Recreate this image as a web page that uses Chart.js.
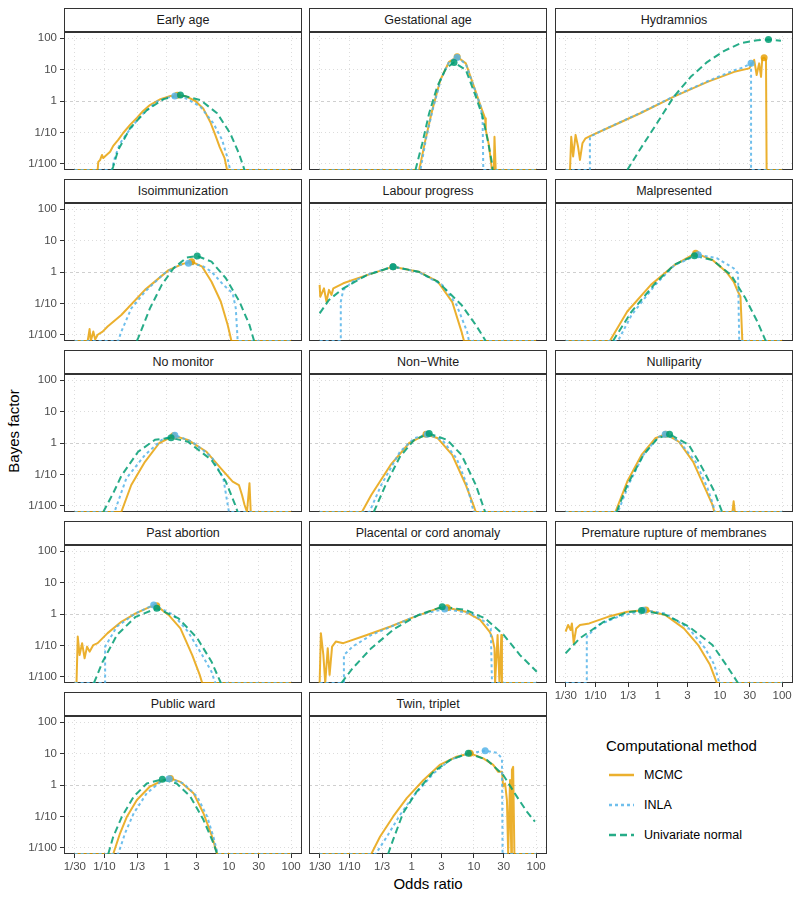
<!DOCTYPE html>
<html>
<head>
<meta charset="utf-8">
<script src="https://cdn.jsdelivr.net/npm/chart.js@4.4.1/dist/chart.umd.min.js"></script>
<style>
    body { margin: 0; width: 800px; height: 900px; position: relative; overflow: hidden; background: #fff;
           font-family: "Liberation Sans", Arial, sans-serif; }
    canvas { position: absolute; }
    .strip { position: absolute; box-sizing: border-box; height: 24px; border: 1px solid #333; background: #fff;
             color: #1a1a1a; font-size: 12.5px; line-height: 22px; text-align: center; white-space: nowrap; }
    .axis-title { position: absolute; width: 200px; text-align: center; font-size: 15px; color: #000; line-height: 18px; }
    .legend-title { position: absolute; left: 606px; top: 737px; font-size: 15px; line-height: 18px; color: #000; }
    .legend-item { position: absolute; left: 609px; height: 16px; font-size: 12.5px; line-height: 16px; color: #000; }
    .legend-item svg { position: absolute; left: 0; top: 6px; }
    .legend-item span { position: absolute; left: 35px; top: 0; white-space: nowrap; }
</style>
</head>
<body>
<div class="axis-title" style="left:-86px; top:422px; transform: rotate(-90deg);">Bayes factor</div>
<div class="axis-title" style="left:328px; top:875px;">Odds ratio</div>
<div class="legend-title">Computational method</div>
<div id="legend"></div>

<script>
// Ejes: valores de los ticks y sus etiquetas
const xTickValues = [1 / 30, 1 / 10, 1 / 3, 1, 3, 10, 30, 100];
const xTickLabels = ['1/30', '1/10', '1/3', '1', '3', '10', '30', '100'];
const yTickValues = [1 / 100, 1 / 10, 1, 10, 100];
const yTickLabels = ['1/100', '1/10', '1', '10', '100'];

const methods = ['MCMC', 'INLA', 'Univariate normal'];

const panelTitles = [
    'Early age', 'Gestational age', 'Hydramnios',
    'Isoimmunization', 'Labour progress', 'Malpresented',
    'No monitor', 'Non\u2212White', 'Nulliparity',
    'Past abortion', 'Placental or cord anomaly', 'Premature rupture of membranes',
    'Public ward', 'Twin, triplet'
];

// Curvas: [log10 odds ratio, log10 Bayes factor]
// (-2.2 = valor llevado al borde inferior del panel)
const earlyAgeMcmc = [[-1.48,-2.2],[-1.11,-2.2],[-1.10,-1.94],[-1.07,-1.88],[-1.04,-1.72],[-1.02,-1.82],[-0.99,-1.76],[-0.91,-1.62],[-0.86,-1.43],[-0.78,-1.24],[-0.70,-1.02],[-0.59,-0.76],[-0.48,-0.54],[-0.38,-0.32],[-0.27,-0.13],[-0.10,0.06],[0.06,0.16],[0.17,0.18],[0.31,0.15],[0.46,0.0],[0.59,-0.25],[0.70,-0.67],[0.78,-1.08],[0.85,-1.46],[0.93,-1.82],[0.97,-2.2],[2.0,-2.2]];
const earlyAgeInla = [[-1.48,-2.2],[-0.88,-2.2],[-0.83,-1.77],[-0.75,-1.35],[-0.64,-1.03],[-0.43,-0.5],[-0.16,-0.02],[0.0,0.1],[0.13,0.16],[0.30,0.09],[0.54,-0.18],[0.75,-0.71],[0.89,-1.24],[0.97,-1.77],[1.02,-2.2],[2.0,-2.2]];
const earlyAgeNormal = [[-0.88,-2.2],[-0.86,-2.09],[-0.78,-1.56],[-0.59,-0.87],[-0.32,-0.29],[-0.05,0.06],[0.22,0.19],[0.54,0.03],[0.81,-0.39],[1.02,-1.03],[1.16,-1.67],[1.24,-2.14],[1.25,-2.2]];

const gestationalAgeMcmc = [[-1.48,-2.2],[0.12,-2.2],[0.22,-1.24],[0.33,-0.29],[0.46,0.67],[0.60,1.25],[0.73,1.41],[0.87,1.2],[1.00,0.46],[1.11,-0.18],[1.18,-0.55],[1.19,-0.92],[1.24,-1.4],[1.27,-1.88],[1.29,-2.2],[1.32,-2.2],[1.33,-1.14],[1.35,-2.2],[2.0,-2.2]];
const gestationalAgeInla = [[-1.48,-2.2],[0.14,-2.2],[0.23,-1.2],[0.34,-0.25],[0.47,0.7],[0.60,1.25],[0.73,1.39],[0.87,1.18],[1.00,0.44],[1.11,-0.18],[1.14,-0.71],[1.15,-2.2],[2.0,-2.2]];
const gestationalAgeNormal = [[0.06,-2.2],[0.17,-1.35],[0.28,-0.39],[0.41,0.46],[0.55,1.04],[0.68,1.23],[0.87,0.99],[1.03,0.14],[1.14,-0.5],[1.22,-1.24],[1.29,-1.98],[1.30,-2.2]];

const hydramniosMcmc = [[-1.48,-2.2],[-1.41,-2.2],[-1.39,-1.14],[-1.36,-1.77],[-1.32,-1.08],[-1.28,-1.46],[-1.25,-1.88],[-1.21,-1.35],[-1.16,-1.19],[-1.08,-1.11],[-0.81,-0.87],[-0.28,-0.39],[0.26,0.14],[0.80,0.61],[1.23,0.93],[1.47,1.04],[1.55,1.31],[1.59,0.83],[1.63,1.2],[1.66,0.77],[1.68,1.36],[1.71,1.38],[1.74,1.31],[1.75,-2.2],[2.0,-2.2]];
const hydramniosInla = [[-1.48,-2.2],[-1.09,-2.2],[-1.09,-1.14],[-0.81,-0.86],[-0.28,-0.38],[0.26,0.15],[0.80,0.63],[1.23,0.98],[1.36,1.06],[1.50,1.2],[1.50,-2.2],[2.0,-2.2]];
const hydramniosNormal = [[-0.49,-2.2],[-0.28,-1.53],[-0.01,-0.7],[0.26,0.14],[0.53,0.77],[0.80,1.25],[1.07,1.6],[1.33,1.84],[1.60,1.94],[1.78,1.96],[1.98,1.92]];

const isoimmunizationMcmc = [[-1.48,-2.2],[-1.27,-2.2],[-1.24,-1.82],[-1.22,-2.2],[-1.18,-1.9],[-1.15,-2.15],[-1.11,-2.0],[-1.03,-1.9],[-0.95,-1.74],[-0.73,-1.37],[-0.35,-0.57],[0.03,0.06],[0.26,0.26],[0.40,0.33],[0.57,0.17],[0.72,-0.31],[0.87,-0.95],[0.98,-1.69],[1.04,-2.2],[2.0,-2.2]];
const isoimmunizationInla = [[-1.48,-2.2],[-0.78,-2.2],[-0.73,-1.9],[-0.57,-1.16],[-0.35,-0.63],[-0.04,-0.04],[0.19,0.22],[0.35,0.28],[0.57,0.2],[0.72,0.01],[0.91,-0.41],[1.06,-0.68],[1.11,-1.16],[1.14,-2.2],[2.0,-2.2]];
const isoimmunizationNormal = [[-0.48,-2.2],[-0.46,-2.11],[-0.27,-1.16],[-0.08,-0.41],[0.11,0.12],[0.32,0.46],[0.49,0.51],[0.72,0.33],[0.95,-0.2],[1.17,-0.95],[1.33,-1.69],[1.40,-2.17],[1.41,-2.2]];

const labourProgressMcmc = [[-1.48,-0.41],[-1.47,-0.79],[-1.41,-0.52],[-1.37,-0.95],[-1.33,-0.57],[-1.29,-0.73],[-1.26,-0.52],[-1.10,-0.36],[-0.72,-0.1],[-0.30,0.17],[0.11,0.01],[0.42,-0.31],[0.65,-0.95],[0.80,-1.9],[0.84,-2.2],[2.0,-2.2]];
const labourProgressInla = [[-1.48,-2.2],[-1.14,-2.2],[-1.14,-0.95],[-1.10,-0.57],[-0.95,-0.31],[-0.65,-0.04],[-0.30,0.17],[0.11,0.0],[0.49,-0.41],[0.72,-1.05],[0.89,-1.9],[0.92,-2.2],[2.0,-2.2]];
const labourProgressNormal = [[-1.48,-1.32],[-1.33,-0.89],[-1.10,-0.52],[-0.72,-0.1],[-0.30,0.17],[0.11,0.01],[0.42,-0.31],[0.80,-1.05],[1.03,-1.69],[1.18,-2.17],[1.19,-2.2]];

const malpresentedMcmc = [[-1.48,-2.2],[-0.77,-2.2],[-0.49,-1.26],[-0.11,-0.41],[0.27,0.22],[0.61,0.6],[0.88,0.38],[1.10,0.01],[1.22,-0.31],[1.29,-0.63],[1.33,-0.79],[1.36,-2.2],[2.0,-2.2]];
const malpresentedInla = [[-1.48,-2.2],[-0.64,-2.2],[-0.42,-1.37],[-0.04,-0.41],[0.27,0.22],[0.65,0.55],[0.95,0.44],[1.22,0.12],[1.29,-0.04],[1.31,-2.2],[2.0,-2.2]];
const malpresentedNormal = [[-0.72,-2.2],[-0.42,-1.26],[-0.04,-0.36],[0.27,0.24],[0.59,0.52],[0.88,0.38],[1.18,-0.1],[1.41,-0.84],[1.60,-1.58],[1.73,-2.17],[1.74,-2.2]];

const noMonitorMcmc = [[-1.48,-2.2],[-0.73,-2.2],[-0.57,-1.34],[-0.35,-0.6],[-0.12,0.0],[0.11,0.23],[0.34,0.1],[0.64,-0.28],[0.87,-0.81],[1.06,-1.23],[1.16,-1.34],[1.21,-1.66],[1.25,-1.97],[1.29,-2.2],[1.33,-1.28],[1.35,-2.2],[2.0,-2.2]];
const noMonitorInla = [[-1.48,-2.2],[-0.84,-2.2],[-0.65,-1.13],[-0.35,-0.38],[-0.08,0.1],[0.13,0.25],[0.41,0.04],[0.72,-0.44],[0.91,-1.13],[0.98,-1.97],[1.00,-2.2],[2.0,-2.2]];
const noMonitorNormal = [[-1.02,-2.2],[-0.86,-1.6],[-0.73,-1.05],[-0.46,-0.28],[-0.19,0.1],[0.07,0.17],[0.34,0.04],[0.72,-0.54],[0.95,-1.23],[1.10,-1.97],[1.14,-2.2]];

const nonWhiteMcmc = [[-1.48,-2.2],[-0.80,-2.2],[-0.65,-1.66],[-0.34,-0.7],[-0.04,0.0],[0.23,0.28],[0.42,0.15],[0.65,-0.38],[0.87,-1.34],[0.99,-1.97],[1.03,-2.2],[2.0,-2.2]];
const nonWhiteInla = [[-1.48,-2.2],[-0.68,-2.2],[-0.49,-1.34],[-0.19,-0.28],[0.04,0.15],[0.25,0.28],[0.49,0.1],[0.72,-0.49],[0.89,-1.34],[0.98,-2.08],[0.99,-2.2],[2.0,-2.2]];
const nonWhiteNormal = [[-0.61,-2.2],[-0.42,-1.34],[-0.19,-0.44],[0.04,0.1],[0.28,0.3],[0.57,0.1],[0.80,-0.38],[1.03,-1.34],[1.14,-1.97],[1.18,-2.2]];

const nulliparityMcmc = [[-1.48,-2.2],[-0.68,-2.2],[-0.49,-1.23],[-0.26,-0.38],[-0.04,0.15],[0.13,0.28],[0.34,0.04],[0.57,-0.6],[0.76,-1.44],[0.88,-1.97],[0.91,-2.2],[1.20,-2.2],[1.22,-1.86],[1.24,-2.2],[2.0,-2.2]];
const nulliparityInla = [[-1.48,-2.2],[-0.64,-2.2],[-0.45,-1.25],[-0.23,-0.38],[0.0,0.18],[0.12,0.28],[0.34,0.06],[0.61,-0.6],[0.80,-1.44],[0.89,-1.97],[0.92,-2.2],[2.0,-2.2]];
const nulliparityNormal = [[-0.66,-2.2],[-0.49,-1.34],[-0.23,-0.38],[0.0,0.15],[0.19,0.28],[0.50,-0.06],[0.72,-0.81],[0.91,-1.55],[1.03,-2.17],[1.04,-2.2]];

const pastAbortionMcmc = [[-1.48,-2.2],[-1.45,-2.2],[-1.43,-0.72],[-1.40,-1.31],[-1.36,-0.93],[-1.32,-1.41],[-1.28,-1.04],[-1.24,-1.2],[-1.18,-0.99],[-1.11,-0.93],[-0.95,-0.61],[-0.73,-0.25],[-0.50,0.02],[-0.27,0.23],[-0.16,0.26],[0.03,-0.03],[0.22,-0.46],[0.41,-1.31],[0.53,-1.94],[0.57,-2.2],[2.0,-2.2]];
const pastAbortionInla = [[-1.48,-2.2],[-0.99,-2.2],[-0.99,-1.04],[-0.80,-0.4],[-0.50,0.02],[-0.21,0.29],[0.11,-0.03],[0.34,-0.56],[0.57,-1.31],[0.72,-1.84],[0.78,-2.2],[2.0,-2.2]];
const pastAbortionNormal = [[-1.17,-2.2],[-1.03,-1.52],[-0.80,-0.67],[-0.50,-0.09],[-0.16,0.18],[0.19,-0.14],[0.49,-0.77],[0.72,-1.52],[0.87,-2.2]];

const placentalMcmc = [[-1.48,-2.2],[-1.46,-0.61],[-1.42,-1.31],[-1.39,-2.2],[-1.35,-1.09],[-1.32,-1.94],[-1.28,-1.04],[-1.22,-0.88],[-1.10,-0.93],[-0.72,-0.67],[-0.34,-0.4],[0.04,-0.09],[0.42,0.18],[0.57,0.2],[0.87,0.07],[1.10,-0.19],[1.25,-0.56],[1.29,-0.72],[1.33,-1.09],[1.34,-2.2],[1.38,-0.67],[1.41,-2.2],[1.44,-0.67],[1.45,-2.2],[2.0,-2.2]];
const placentalInla = [[-1.48,-2.2],[-1.09,-2.2],[-1.09,-1.31],[-0.95,-1.04],[-0.65,-0.67],[-0.27,-0.35],[0.11,-0.03],[0.53,0.16],[0.95,0.02],[1.18,-0.25],[1.27,-0.46],[1.29,-2.2],[2.0,-2.2]];
const placentalNormal = [[-1.13,-2.2],[-0.95,-1.73],[-0.65,-1.09],[-0.27,-0.46],[0.11,-0.03],[0.49,0.23],[0.87,0.13],[1.18,-0.14],[1.48,-0.67],[1.74,-1.31],[2.01,-1.84]];

const prematureMcmc = [[-1.48,-0.56],[-1.44,-0.35],[-1.40,-0.51],[-1.38,-0.3],[-1.35,-0.93],[-1.31,-0.46],[-1.25,-0.35],[-1.10,-0.3],[-0.80,-0.09],[-0.49,0.07],[-0.19,0.13],[0.12,-0.03],[0.42,-0.46],[0.65,-0.99],[0.84,-1.62],[0.95,-2.2],[2.0,-2.2]];
const prematureInla = [[-1.48,-2.2],[-1.14,-2.2],[-1.14,-0.72],[-0.95,-0.35],[-0.64,-0.09],[-0.23,0.12],[0.12,0.02],[0.50,-0.46],[0.76,-1.09],[0.91,-1.62],[0.99,-2.2],[2.0,-2.2]];
const prematureNormal = [[-1.48,-1.25],[-1.25,-0.77],[-0.87,-0.25],[-0.49,0.06],[-0.26,0.11],[0.12,-0.02],[0.50,-0.4],[0.88,-0.99],[1.10,-1.62],[1.29,-2.2]];

const publicWardMcmc = [[-1.48,-2.2],[-0.86,-2.2],[-0.75,-1.54],[-0.64,-1.01],[-0.48,-0.48],[-0.27,-0.05],[-0.05,0.16],[0.06,0.21],[0.22,0.1],[0.43,-0.26],[0.59,-0.9],[0.73,-1.65],[0.81,-2.2],[2.0,-2.2]];
const publicWardInla = [[-1.48,-2.2],[-0.78,-2.2],[-0.67,-1.54],[-0.53,-0.9],[-0.32,-0.26],[-0.10,0.1],[0.04,0.2],[0.27,0.05],[0.49,-0.37],[0.65,-1.01],[0.75,-1.65],[0.82,-2.2],[2.0,-2.2]];
const publicWardNormal = [[-0.94,-2.2],[-0.86,-1.65],[-0.72,-1.01],[-0.53,-0.37],[-0.32,0.05],[-0.07,0.18],[0.16,0.05],[0.38,-0.37],[0.59,-1.11],[0.75,-1.85],[0.81,-2.2]];

const twinMcmc = [[-1.48,-2.2],[-0.65,-2.2],[-0.51,-1.65],[-0.30,-1.01],[-0.08,-0.42],[0.19,0.16],[0.45,0.64],[0.72,0.9],[0.94,1.01],[1.15,0.85],[1.31,0.64],[1.39,0.42],[1.45,0.42],[1.47,-0.05],[1.50,0.05],[1.53,-0.48],[1.55,-2.2],[1.58,0.16],[1.60,-2.2],[1.61,0.48],[1.63,0.58],[1.65,-2.2],[2.0,-2.2]];
const twinInla = [[-1.48,-2.2],[-0.58,-2.2],[-0.40,-1.65],[-0.19,-0.96],[0.02,-0.37],[0.35,0.37],[0.62,0.8],[0.88,0.99],[1.18,1.09],[1.37,1.03],[1.45,0.85],[1.46,-2.2],[2.0,-2.2]];
const twinNormal = [[-0.38,-2.2],[-0.30,-1.75],[-0.14,-0.9],[0.08,-0.21],[0.35,0.42],[0.62,0.8],[0.91,1.01],[1.21,0.8],[1.47,0.32],[1.69,-0.37],[1.85,-0.85],[1.98,-1.17]];

const panelSeries = [
    [earlyAgeMcmc, earlyAgeInla, earlyAgeNormal],
    [gestationalAgeMcmc, gestationalAgeInla, gestationalAgeNormal],
    [hydramniosMcmc, hydramniosInla, hydramniosNormal],
    [isoimmunizationMcmc, isoimmunizationInla, isoimmunizationNormal],
    [labourProgressMcmc, labourProgressInla, labourProgressNormal],
    [malpresentedMcmc, malpresentedInla, malpresentedNormal],
    [noMonitorMcmc, noMonitorInla, noMonitorNormal],
    [nonWhiteMcmc, nonWhiteInla, nonWhiteNormal],
    [nulliparityMcmc, nulliparityInla, nulliparityNormal],
    [pastAbortionMcmc, pastAbortionInla, pastAbortionNormal],
    [placentalMcmc, placentalInla, placentalNormal],
    [prematureMcmc, prematureInla, prematureNormal],
    [publicWardMcmc, publicWardInla, publicWardNormal],
    [twinMcmc, twinInla, twinNormal]
];

// Estilos
const methodColors = ['rgba(230,159,0,0.82)', 'rgba(86,180,233,0.85)', 'rgba(0,158,115,0.85)'];
const methodDash = [[], [3, 3], [7, 4]];
const FONT = '"Liberation Sans", Arial, sans-serif';

// Geometria de la rejilla de paneles
const X_MIN = -1.651, X_MAX = 2.174, Y_MIN = -2.2, Y_MAX = 2.2;
const colLeft = [64, 309, 555];
const rowTop = [32, 203, 374, 545, 716];
const PW = 238, PH = 138, LEFT_M = 60, BOT_M = 24, STRIP_H = 24, PAD = 8;

// Marco del panel
const framePlugin = {
    id: 'frame',
    beforeDatasetsDraw(chart) {
        const { ctx, chartArea: a } = chart;
        ctx.save();
        ctx.strokeStyle = '#333';
        ctx.lineWidth = 1;
        ctx.strokeRect(a.left + 0.5, a.top + 0.5, a.width - 1, a.height - 1);
        ctx.restore();
    }
};

// Punto maximo de cada curva
const peakOf = (series) => series.reduce((best, p) => (p[1] > best[1] ? p : best));

const sinPadding = (s) => { s.paddingTop = 0; s.paddingBottom = 0; s.paddingLeft = 0; s.paddingRight = 0; };

const crearPanel = (title, i) => {
    const r = Math.floor(i / 3), c = i % 3;
    const showY = c === 0;
    const showX = r === 4 || i === 11;

    const strip = document.createElement('div');
    strip.className = 'strip';
    strip.textContent = title;
    strip.style.left = colLeft[c] + 'px';
    strip.style.top = (rowTop[r] - STRIP_H) + 'px';
    strip.style.width = PW + 'px';
    document.body.appendChild(strip);

    // margenes del lienzo alrededor del area de datos
    const mLeft = showY ? LEFT_M : PAD;
    const mBottom = showX ? BOT_M : PAD;
    const w = PW + mLeft + PAD;
    const h = PH + PAD + mBottom;
    const canvas = document.createElement('canvas');
    canvas.width = w;
    canvas.height = h;
    canvas.style.width = w + 'px';
    canvas.style.height = h + 'px';
    canvas.style.left = (colLeft[c] - mLeft) + 'px';
    canvas.style.top = (rowTop[r] - PAD) + 'px';
    document.body.appendChild(canvas);

    const datasets = [];
    panelSeries[i].forEach((serie, m) => {
        datasets.push({
            type: 'line',
            data: serie.map(([x, y]) => ({ x, y: Math.max(y, Y_MIN) })),
            borderColor: methodColors[m],
            borderWidth: 2,
            borderDash: methodDash[m],
            borderJoinStyle: 'round',
            pointRadius: 0,
            tension: 0,
            fill: false,
            order: 5 - m
        });
        const pk = peakOf(serie);
        datasets.push({
            type: 'scatter',
            data: [{ x: pk[0], y: pk[1] }],
            backgroundColor: methodColors[m],
            borderWidth: 0,
            pointRadius: 3.5,
            order: 2 - m
        });
    });

    const gridColor = (ctx) => (ctx.tick && ctx.tick.value === 0 ? '#CFCFCF' : '#DCDCDC');

    new Chart(canvas, {
        data: { datasets },
        options: {
            responsive: false,
            animation: false,
            devicePixelRatio: 1,
            layout: { autoPadding: false,
                      padding: { left: showY ? 0 : PAD, right: PAD, top: PAD, bottom: showX ? 0 : PAD } },
            plugins: { legend: { display: false }, tooltip: { enabled: false } },
            scales: {
                x: {
                    type: 'linear', min: X_MIN, max: X_MAX,
                    afterBuildTicks: (s) => { s.ticks = xTickValues.map(v => ({ value: Math.log10(v) })); },
                    afterFit: (s) => { s.height = showX ? BOT_M : 0; sinPadding(s); },
                    grid: { color: '#DCDCDC', lineWidth: 1, drawTicks: showX, tickLength: 4,
                            tickColor: '#333', tickWidth: 1, tickBorderDash: [] },
                    border: { display: false, dash: [1, 3] },
                    ticks: { display: showX, autoSkip: false, maxRotation: 0, padding: 2, color: '#4D4D4D',
                             font: { family: FONT, size: 11.5 }, callback: (v, idx) => xTickLabels[idx] }
                },
                y: {
                    type: 'linear', min: Y_MIN, max: Y_MAX,
                    afterBuildTicks: (s) => { s.ticks = yTickValues.map(v => ({ value: Math.log10(v) })); },
                    afterFit: (s) => { s.width = showY ? LEFT_M : 0; sinPadding(s); },
                    grid: { color: gridColor, lineWidth: 1, drawTicks: showY, tickLength: 4,
                            tickColor: '#333', tickWidth: 1, tickBorderDash: [] },
                    border: { display: false, dash: (ctx) => (ctx.tick && ctx.tick.value === 0 ? [3, 3] : [1, 3]) },
                    ticks: { display: showY, autoSkip: false, padding: 3, color: '#4D4D4D',
                             font: { family: FONT, size: 11.5 }, callback: (v, idx) => yTickLabels[idx] }
                }
            }
        },
        plugins: [framePlugin]
    });
};

panelTitles.forEach(crearPanel);

// Leyenda
const legend = document.getElementById('legend');
methods.forEach((name, m) => {
    const item = document.createElement('div');
    item.className = 'legend-item';
    item.style.top = (767 + m * 30) + 'px';
    const dash = methodDash[m].length ? methodDash[m].join(' ') : 'none';
    item.innerHTML = '<svg width="26" height="4"><line x1="0" y1="2" x2="25" y2="2" stroke="' + methodColors[m] +
        '" stroke-width="2.5" stroke-dasharray="' + dash + '"/></svg><span></span>';
    item.querySelector('span').textContent = name;
    legend.appendChild(item);
});
</script>
</body>
</html>
